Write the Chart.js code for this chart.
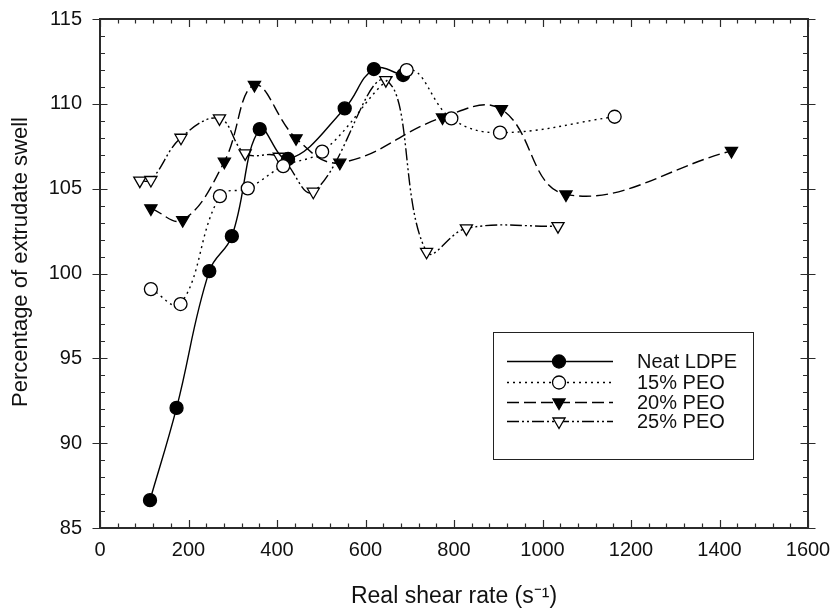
<!DOCTYPE html>
<html>
<head>
<meta charset="utf-8">
<script src="https://cdn.jsdelivr.net/npm/chart.js@4"></script>
<style>
html,body{margin:0;padding:0;background:#fff;}
#wrap{width:834px;height:608px;position:relative;}
</style>
</head>
<body>
<div id="wrap"><canvas id="c" width="834" height="608"></canvas></div>
<script>
// ---- data ----
const seriesNames = ["Neat LDPE", "15% PEO", "20% PEO", "25% PEO"];

const neatX = [113, 173, 247, 298, 361, 425, 553, 619, 685];
const neatY = [86.64, 92.08, 100.14, 102.2, 108.51, 106.75, 109.73, 112.05, 111.7];

const peo15X = [115, 182, 271, 334, 414, 502, 693, 794, 904, 1163];
const peo15Y = [99.08, 98.2, 104.56, 105.02, 106.33, 107.18, 111.99, 109.14, 108.3, 109.24];

const peo20X = [115, 187, 281, 349, 443, 542, 774, 907, 1053, 1427];
const peo20Y = [103.84, 103.15, 106.59, 111.11, 107.97, 106.53, 109.2, 109.68, 104.66, 107.23];

const peo25X = [90, 115, 183, 270, 328, 405, 482, 646, 738, 828, 1035];
const peo25Y = [105.47, 105.51, 108.0, 109.14, 107.08, 106.88, 104.82, 111.4, 101.28, 102.66, 102.79];

const xTickStep = 200, xMin = 0, xMax = 1600;
const yTickStep = 5, yMin = 85, yMax = 115;

function pts(xs, ys) { return xs.map((x, i) => ({x: x, y: ys[i]})); }

const FONT = "'Liberation Sans', Arial, Helvetica, sans-serif";

// frame + tick marks drawn from the chart's own scales
const framePlugin = {
  id: 'frame',
  beforeDatasetsDraw(chart) {
    const {ctx, chartArea: a, scales: {x, y}} = chart;
    ctx.save();
    ctx.strokeStyle = '#2b2b2b';
    ctx.lineWidth = 1.2;
    ctx.beginPath();
    for (let v = xMin; v <= xMax + 1e-6; v += 40) {
      const px = Math.round(x.getPixelForValue(v)) + 0.5;
      const major = Math.abs(v / xTickStep - Math.round(v / xTickStep)) < 1e-6;
      const len = major ? 8 : 4.5;
      ctx.moveTo(px, a.bottom); ctx.lineTo(px, a.bottom - len);
      ctx.moveTo(px, a.top); ctx.lineTo(px, a.top + len);
    }
    for (let v = yMin; v <= yMax + 1e-6; v += 1) {
      const py = Math.round(y.getPixelForValue(v)) + 0.5;
      const major = Math.abs(v / yTickStep - Math.round(v / yTickStep)) < 1e-6;
      if (major) {
        ctx.moveTo(a.left - 7.5, py); ctx.lineTo(a.left + 7.5, py);
        ctx.moveTo(a.right - 7.5, py); ctx.lineTo(a.right + 7.5, py);
      } else {
        ctx.moveTo(a.left, py); ctx.lineTo(a.left + 5, py);
        ctx.moveTo(a.right, py); ctx.lineTo(a.right - 5, py);
      }
    }
    ctx.stroke();
    ctx.lineWidth = 2;
    ctx.strokeStyle = '#2b2b2b';
    ctx.strokeRect(a.left, a.top, a.right - a.left, a.bottom - a.top);
    // y-axis title
    ctx.fillStyle = '#111';
    ctx.font = "22px " + FONT;
    ctx.textAlign = 'center';
    ctx.textBaseline = 'middle';
    ctx.translate(21, 262);
    ctx.rotate(-Math.PI / 2);
    ctx.fillText("Percentage of extrudate swell", 0, 0);
    ctx.restore();
  }
};

// legend box drawn from the datasets' own styles
const legendPlugin = {
  id: 'boxLegend',
  afterDatasetsDraw(chart) {
    const {ctx} = chart;
    const bx = 493, by = 332, bw = 260, bh = 127;
    const rows = [361, 382, 402, 421];
    ctx.save();
    ctx.fillStyle = '#fff';
    ctx.fillRect(bx, by, bw, bh);
    ctx.strokeStyle = '#222';
    ctx.lineWidth = 1;
    ctx.strokeRect(bx + 0.5, by + 0.5, bw, bh);
    chart.data.datasets.forEach((ds, i) => {
      const yy = rows[i] + 0.5;
      ctx.save();
      ctx.strokeStyle = ds.borderColor;
      ctx.lineWidth = ds.borderWidth;
      ctx.setLineDash(ds.borderDash || []);
      ctx.beginPath();
      ctx.moveTo(507, yy); ctx.lineTo(613, yy);
      ctx.stroke();
      ctx.restore();
      ctx.save();
      ctx.fillStyle = ds.pointBackgroundColor;
      ctx.strokeStyle = ds.pointBorderColor;
      ctx.lineWidth = ds.pointBorderWidth;
      ctx.setLineDash([]);
      Chart.helpers.drawPoint(ctx, {
        pointStyle: ds.pointStyle,
        rotation: ds.pointRotation || 0,
        radius: ds.pointRadius,
        borderWidth: ds.pointBorderWidth
      }, 559, yy);
      ctx.restore();
      ctx.fillStyle = '#111';
      ctx.font = "20px " + FONT;
      ctx.textAlign = 'left';
      ctx.textBaseline = 'middle';
      ctx.fillText(seriesNames[i], 637, yy + 1);
    });
    ctx.restore();
  }
};

const commonLine = {
  borderColor: '#000',
  borderWidth: 1.4,
  tension: 0.4,
  fill: false,
  pointBorderColor: '#000',
  pointBorderWidth: 1.3,
  pointHoverRadius: 0
};

new Chart(document.getElementById('c'), {
  type: 'line',
  data: {
    datasets: [
      Object.assign({}, commonLine, {
        label: seriesNames[0], data: pts(neatX, neatY),
        borderDash: [], pointStyle: 'circle', pointRadius: 6.5,
        pointBackgroundColor: '#000', order: 1
      }),
      Object.assign({}, commonLine, {
        label: seriesNames[1], data: pts(peo15X, peo15Y),
        borderDash: [2, 4], pointStyle: 'circle', pointRadius: 6.5,
        pointBackgroundColor: '#fff', order: 0
      }),
      Object.assign({}, commonLine, {
        label: seriesNames[2], data: pts(peo20X, peo20Y),
        borderDash: [12, 5], pointStyle: 'triangle', pointRotation: 180, pointRadius: 7,
        pointBackgroundColor: '#000', order: 2
      }),
      Object.assign({}, commonLine, {
        label: seriesNames[3], data: pts(peo25X, peo25Y),
        borderDash: [12, 3, 2, 3, 2, 3], pointStyle: 'triangle', pointRotation: 180, pointRadius: 7,
        pointBackgroundColor: '#fff', order: 3
      })
    ]
  },
  options: {
    responsive: false,
    animation: false,
    events: [],
    layout: {padding: {left: 0, right: 26, top: 19, bottom: 0}},
    plugins: {legend: {display: false}, tooltip: {enabled: false}, title: {display: false}},
    scales: {
      x: {
        type: 'linear', min: xMin, max: xMax,
        grid: {display: false, drawTicks: false},
        border: {display: false},
        ticks: {stepSize: xTickStep, padding: 10, color: '#111', font: {family: FONT, size: 20}, maxRotation: 0,
                callback: (v) => String(v)},
        title: {display: true, text: 'Real shear rate (s\u207B\u00B9)', color: '#111',
                font: {family: FONT, size: 23, lineHeight: 1.0}, padding: {top: 0, bottom: 0}},
        afterFit(s) { s.height = 80; s.paddingLeft = 0; s.paddingRight = 0; }
      },
      y: {
        type: 'linear', min: yMin, max: yMax,
        grid: {display: false, drawTicks: false},
        border: {display: false},
        ticks: {stepSize: yTickStep, padding: 18, color: '#111', font: {family: FONT, size: 20},
                callback: (v) => String(v)},
        afterFit(s) { s.width = 100; s.paddingTop = 0; s.paddingBottom = 0; }
      }
    }
  },
  plugins: [framePlugin, legendPlugin]
});
</script>
</body>
</html>
